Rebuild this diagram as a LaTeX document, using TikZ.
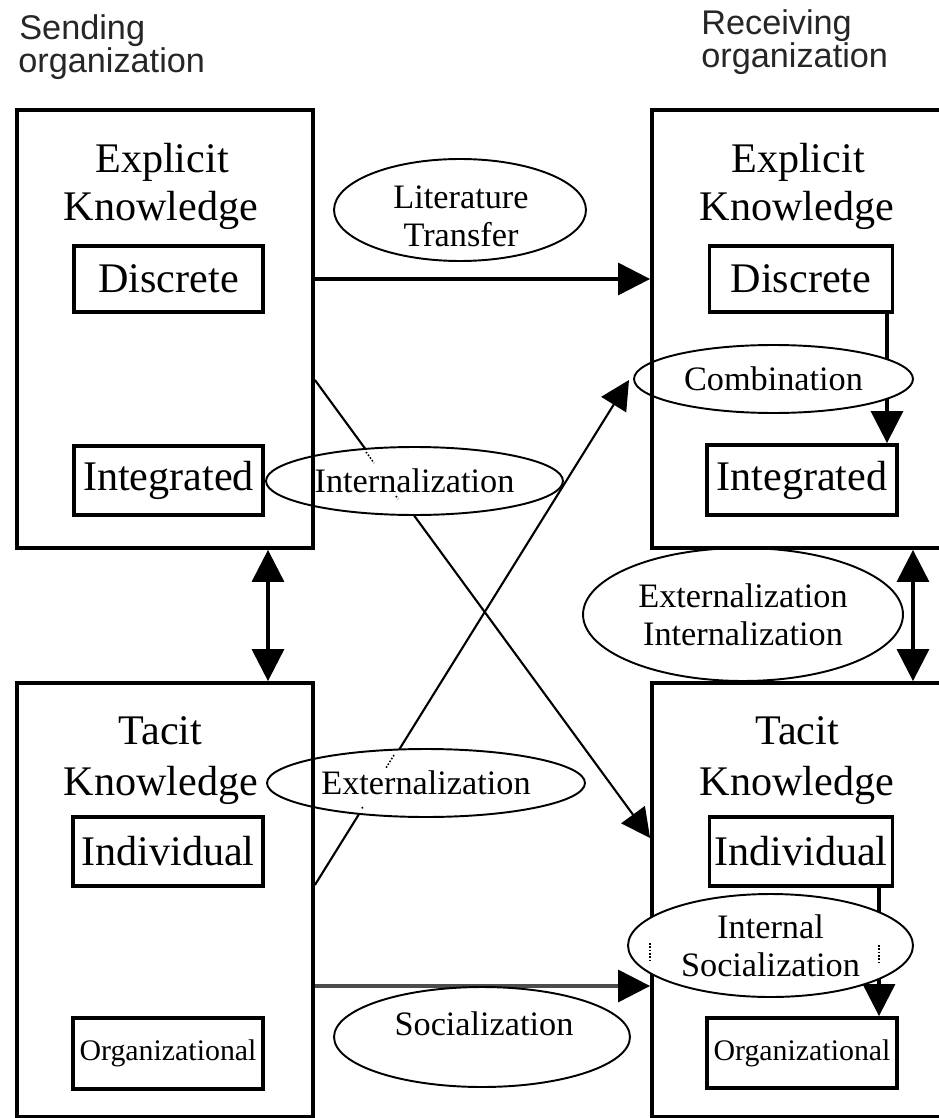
\documentclass[tikz,border=0pt]{standalone}
\usepackage{fontspec}
\setmainfont{Liberation Serif}
\newfontfamily\sansf{Liberation Sans}
\usetikzlibrary{arrows.meta,shapes.geometric}
\pgfdeclarelayer{bg}
\pgfdeclarelayer{mid}
\pgfsetlayers{bg,mid,main}
\begin{document}
\begin{tikzpicture}[x=0.02cm,y=-0.02cm,
  bigbox/.style={draw, line width=2.2pt, inner sep=0pt},
  ttl/.style={font=\fontsize{24}{27}\selectfont, inner sep=0pt},
  inbox/.style={draw, line width=2.2pt, inner sep=0pt, font=\fontsize{24}{27}\selectfont},
  smallbox/.style={inbox, font=\fontsize{17}{20}\selectfont},
  ell/.style={draw, ellipse, fill=white, line width=1.1pt, inner sep=0pt,
    font=\fontsize{19.5}{21.5}\selectfont, align=center},
  etxt/.style={font=\fontsize{19.5}{21.5}\selectfont, inner sep=0pt, align=center},
  orgtitle/.style={font=\sansf\fontsize{19.5}{22}\selectfont, inner sep=0pt, text=black!85},
  arr/.style={line width=1.8pt, -{Triangle[length=0.64cm,width=0.64cm,color=black]}},
  dblarr/.style={line width=1.8pt, {Triangle[length=0.64cm,width=0.64cm]}-{Triangle[length=0.64cm,width=0.64cm]}},
  darr/.style={line width=1.2pt, -{Triangle[length=0.58cm,width=0.58cm]}},
  dots/.style={densely dotted, line width=0.9pt}
]
\useasboundingbox (0,0) rectangle (938,1118);
\begin{pgfonlayer}{bg}
\fill[white] (0,0) rectangle (938,1118);
\end{pgfonlayer}

% organization titles
\node[orgtitle, anchor=base west] (s1) at (19,40) {Sending};
\node[orgtitle, anchor=base west] (s2) at (18,73) {organization};
\node[orgtitle, anchor=base west] (r1) at (701,35) {Receiving};
\node[orgtitle, anchor=base west] (r2) at (701,68) {organization};

% sending organization
\node[bigbox, minimum width=5.92cm, minimum height=8.76cm] (lexp) at (165,329) {};
\node[ttl, anchor=base] (lexp1) at (162,173) {Explicit};
\node[ttl, anchor=base] (lexp2) at (161,221) {Knowledge};
\node[inbox, minimum width=3.78cm, minimum height=1.32cm] (ldis) at (168.5,279) {Discrete};
\node[inbox, minimum width=3.78cm, minimum height=1.38cm] (lint) at (168.5,480.5) {Integrated};

\node[bigbox, minimum width=5.92cm, minimum height=8.68cm] (ltac) at (165,900) {};
\node[ttl, anchor=base] (ltac1) at (160.5,744) {Tacit};
\node[ttl, anchor=base] (ltac2) at (161,795) {Knowledge};
\node[inbox, minimum width=3.8cm, minimum height=1.38cm] (lind) at (168,851.5) {Individual};
\node[smallbox, minimum width=3.8cm, minimum height=1.42cm] (lorg) at (168,1053.5) {Organizational};

% receiving organization
\node[bigbox, minimum width=6.16cm, minimum height=8.76cm] (rexp) at (806,329) {};
\node[ttl, anchor=base] (rexp1) at (798,173) {Explicit};
\node[ttl, anchor=base] (rexp2) at (797,221) {Knowledge};
\node[inbox, minimum width=3.66cm, minimum height=1.32cm] (rdis) at (801,279) {Discrete};
\node[inbox, minimum width=3.8cm, minimum height=1.4cm] (rint) at (802,480) {Integrated};

\node[bigbox, minimum width=6.16cm, minimum height=8.68cm] (rtac) at (806,900) {};
\node[ttl, anchor=base] (rtac1) at (797,744) {Tacit};
\node[ttl, anchor=base] (rtac2) at (797,795) {Knowledge};
\node[inbox, minimum width=3.66cm, minimum height=1.38cm] (rind) at (801,851.5) {Individual};
\node[smallbox, minimum width=3.8cm, minimum height=1.4cm] (rorg) at (802,1053) {Organizational};

% helper coordinates
\coordinate (ca) at ([xshift=1.72cm]rdis.south);
\coordinate (cb) at ([xshift=1.56cm]rind.south);
\coordinate (d2end) at (629,380);

% connectors
\begin{pgfonlayer}{bg}
\draw[arr] (lexp.east |- ldis.center) -- (rexp.west |- ldis.center);
\draw[arr] (ca) -- (ca |- rint.north);
\draw[arr] (cb) -- (cb |- rorg.north);
\draw[dblarr] ([xshift=2.06cm]lexp.south) -- ([xshift=2.06cm]ltac.north);
\draw[dblarr] ([xshift=2.14cm]rexp.south) -- ([xshift=2.14cm]rtac.north);
\draw[darr] ([yshift=-1.02cm]lexp.east) -- ([yshift=1.24cm]rtac.west);
\draw[darr] ([yshift=0.3cm]ltac.east) -- (d2end);
\draw[arr, draw=black!70] ([yshift=-1.72cm]ltac.east) -- ([yshift=-1.72cm]rtac.west);
\end{pgfonlayer}

% ellipses
\begin{pgfonlayer}{mid}
\node[ell, minimum width=5.04cm, minimum height=2.04cm] (lit) at (460,210) {};
\node[etxt] (litt) at (461,216) {Literature\\Transfer};
\node[ell, minimum width=5.58cm, minimum height=1.36cm] (comb) at (773.5,379) {Combination};
\node[ell, minimum width=5.94cm, minimum height=1.36cm] (intl) at (414.5,481) {Internalization};
\node[ell, minimum width=6.36cm, minimum height=1.36cm] (extl) at (426,783) {Externalization};
\node[ell, minimum width=6.4cm, minimum height=2.66cm] (exin) at (743,614.5) {Externalization\\Internalization};
\node[ell, minimum width=5.92cm, minimum height=2cm] (soc) at (482,1037) {};
\node[etxt, anchor=base] (soct) at (484,1035) {Socialization};
\end{pgfonlayer}

% this ellipse hides the box edge behind it
\node[ell, minimum width=5.7cm, minimum height=2.06cm] (isoc) at (770.5,945.5) {Internal\\Socialization};

% small dotted remnants
\draw[dots] (366,452) -- (374,463);
\draw[dots] (396,496) -- (398,499);
\draw[dots] (394,755) -- (386,768);
\draw[dots] (362,807) -- (363,809);
\draw[dots] (rtac.west |- 0,943) -- (rtac.west |- 0,963);
\draw[dots] (cb |- 0,945) -- (cb |- 0,965);
\end{tikzpicture}
\end{document}
